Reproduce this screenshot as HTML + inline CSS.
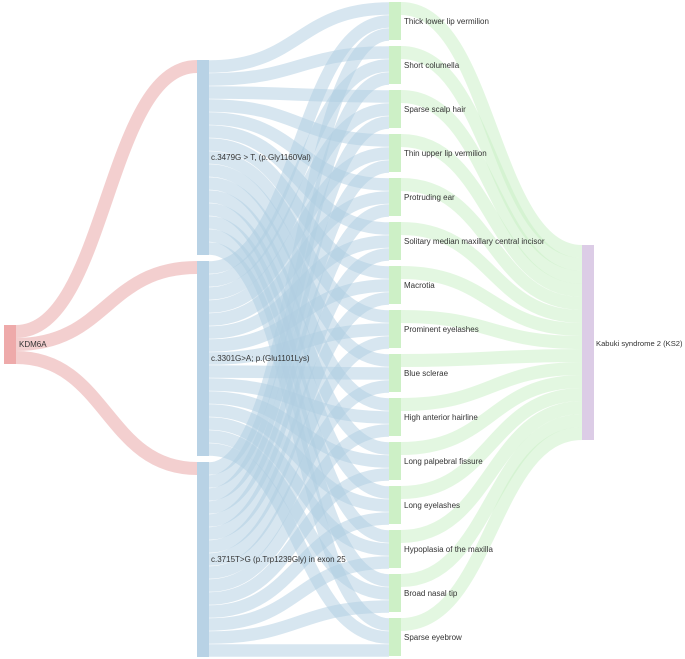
<!DOCTYPE html>
<html><head><meta charset="utf-8"><style>
html,body{margin:0;padding:0;background:#fff;width:685px;height:659px;overflow:hidden}
svg{display:block}
text{font-family:"Liberation Sans",sans-serif;font-size:8px;fill:#333}
</style></head><body>
<svg id="s" width="685" height="659" viewBox="0 0 685 659">
<g id="links"></g>
<rect x="4" y="325" width="12" height="39" fill="#eeaaaa"/>
<rect x="197" y="60" width="12" height="195" fill="#b8d2e5"/>
<rect x="197" y="261" width="12" height="195" fill="#b8d2e5"/>
<rect x="197" y="462" width="12" height="195" fill="#b8d2e5"/>
<g id="pn"></g>
<rect x="582" y="245" width="12" height="195" fill="#dccce6"/>
<text x="19" y="347">KDM6A</text>
<text x="211" y="160">c.3479G &gt; T, (p.Gly1160Val)</text>
<text x="211" y="361">c.3301G&gt;A; p.(Glu1101Lys)</text>
<text x="211" y="562">c.3715T&gt;G (p.Trp1239Gly) in exon 25</text>
<text x="404" y="24">Thick lower lip vermilion</text>
<text x="404" y="68">Short columella</text>
<text x="404" y="112">Sparse scalp hair</text>
<text x="404" y="156">Thin upper lip vermilion</text>
<text x="404" y="200">Protruding ear</text>
<text x="404" y="244">Solitary median maxillary central incisor</text>
<text x="404" y="288">Macrotia</text>
<text x="404" y="332">Prominent eyelashes</text>
<text x="404" y="376">Blue sclerae</text>
<text x="404" y="420">High anterior hairline</text>
<text x="404" y="464">Long palpebral fissure</text>
<text x="404" y="508">Long eyelashes</text>
<text x="404" y="552">Hypoplasia of the maxilla</text>
<text x="404" y="596">Broad nasal tip</text>
<text x="404" y="640">Sparse eyebrow</text>
<text x="596" y="346" style="font-size:7.6px">Kabuki syndrome 2 (KS2)</text>
</svg>
<script>
var NS="http://www.w3.org/2000/svg",L=document.getElementById("links"),P=document.getElementById("pn");
function link(x0,y0,x1,y1,w,c,o){var p=document.createElementNS(NS,"path"),m=(x0+x1)/2;
p.setAttribute("d","M"+x0+","+y0+"C"+m+","+y0+" "+m+","+y1+" "+x1+","+y1);
p.setAttribute("fill","none");p.setAttribute("stroke",c);p.setAttribute("stroke-width",w);p.setAttribute("stroke-opacity",o);L.appendChild(p);}
var vt=[60,261,462];
for(var v=0;v<3;v++)link(16,325+13*v+6.5,197,vt[v]+6.5,13,"#eebbbb",0.7);
for(v=0;v<3;v++)for(var p=0;p<15;p++)link(209,vt[v]+13*p+6.5,389,2+44*p+13*v+6.5,12.5,"#b0cde2",0.5);
for(p=0;p<15;p++){var y0=2+44*p;link(401,y0+6.5,582,245+13*p+6.5,13,"#c8f0c4",0.5);
var r=document.createElementNS(NS,"rect");r.setAttribute("x",389);r.setAttribute("y",y0);r.setAttribute("width",12);r.setAttribute("height",38);r.setAttribute("fill","#cdf0c6");P.appendChild(r);}
</script>
</body></html>
